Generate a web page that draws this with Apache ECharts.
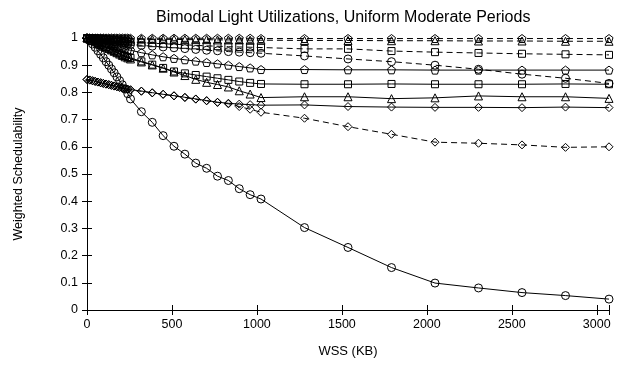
<!DOCTYPE html>
<html>
<head>
<meta charset="utf-8">
<script src="https://cdn.jsdelivr.net/npm/echarts@6/dist/echarts.min.js"></script>
<style>html,body{margin:0;padding:0;background:#fff}#c{width:627px;height:365px}</style>
</head>
<body>
<div id="c"></div>
<script>
const wss = [0,16,32,48,64,80,96,112,128,144,160,176,192,208,224,240,256,320,384,448,512,576,640,704,768,832,896,960,1024,1280,1536,1792,2048,2304,2560,2816,3072];
const xTicks = [0,500,1000,1500,2000,2500,3000];
const yTicks = [0,0.1,0.2,0.3,0.4,0.5,0.6,0.7,0.8,0.9,1];

const circleSolid = [1.0,0.99,0.978,0.966,0.953,0.94,0.927,0.913,0.9,0.886,0.872,0.857,0.843,0.828,0.812,0.795,0.776,0.729,0.69,0.641,0.602,0.573,0.54,0.521,0.492,0.476,0.446,0.424,0.408,0.303,0.23,0.156,0.099,0.081,0.064,0.053,0.04];
const circleDashed = [1.0,0.999,0.998,0.997,0.996,0.995,0.993,0.992,0.99,0.989,0.987,0.985,0.984,0.982,0.98,0.978,0.976,0.973,0.97,0.967,0.964,0.961,0.958,0.955,0.953,0.95,0.948,0.946,0.944,0.934,0.923,0.913,0.9,0.885,0.867,0.852,0.833];
const squareSolid = [1.0,0.996,0.991,0.987,0.982,0.977,0.972,0.967,0.962,0.957,0.952,0.947,0.943,0.938,0.934,0.93,0.927,0.914,0.902,0.89,0.877,0.87,0.864,0.858,0.852,0.846,0.84,0.835,0.831,0.83,0.83,0.831,0.83,0.83,0.83,0.831,0.83];
const squareDashed = [1.0,1.0,0.999,0.999,0.998,0.997,0.996,0.995,0.994,0.993,0.992,0.991,0.99,0.989,0.988,0.987,0.986,0.983,0.981,0.979,0.977,0.975,0.973,0.971,0.97,0.968,0.967,0.966,0.965,0.96,0.96,0.952,0.948,0.945,0.942,0.94,0.938];
const triangleSolid = [1.0,0.996,0.991,0.986,0.981,0.976,0.971,0.966,0.961,0.956,0.951,0.946,0.941,0.936,0.931,0.927,0.923,0.912,0.901,0.889,0.875,0.862,0.848,0.837,0.829,0.82,0.806,0.794,0.781,0.784,0.784,0.777,0.78,0.787,0.784,0.784,0.778];
const triangleDashed = [1.0,1.0,1.0,1.0,0.999,0.999,0.999,0.999,0.998,0.998,0.998,0.998,0.997,0.997,0.997,0.997,0.996,0.996,0.995,0.995,0.995,0.994,0.994,0.994,0.993,0.993,0.993,0.992,0.992,0.991,0.991,0.99,0.99,0.989,0.989,0.988,0.988];
const diamondSolid = [0.848,0.846,0.843,0.841,0.838,0.836,0.833,0.831,0.829,0.826,0.824,0.821,0.819,0.817,0.814,0.812,0.81,0.805,0.799,0.793,0.788,0.782,0.776,0.77,0.764,0.76,0.757,0.755,0.753,0.754,0.748,0.746,0.745,0.745,0.744,0.746,0.744];
const diamondDashed = [0.847,0.845,0.843,0.84,0.838,0.835,0.833,0.83,0.828,0.826,0.823,0.821,0.818,0.816,0.814,0.811,0.809,0.804,0.798,0.793,0.787,0.781,0.775,0.769,0.763,0.758,0.748,0.738,0.727,0.705,0.674,0.646,0.617,0.613,0.607,0.598,0.6];
const pentagonSolid = [1.0,0.998,0.996,0.993,0.99,0.987,0.984,0.981,0.978,0.975,0.972,0.969,0.966,0.963,0.96,0.957,0.955,0.946,0.938,0.931,0.925,0.92,0.915,0.91,0.905,0.9,0.895,0.89,0.884,0.884,0.883,0.883,0.882,0.882,0.882,0.882,0.882];
const pentagonDashed = [1.0,1.0,1.0,1.0,1.0,1.0,1.0,1.0,1.0,1.0,1.0,1.0,1.0,1.0,1.0,1.0,0.999,0.999,0.999,0.999,0.999,0.999,0.999,0.999,0.999,0.999,0.999,0.999,0.998,0.998,0.998,0.998,0.998,0.998,0.998,0.998,0.998];

const PENT = 'path://M0,-10 L9.51,-3.09 L5.88,8.09 L-5.88,8.09 L-9.51,-3.09 Z';
function mk(name, vals, symbol, size, dashed) {
  return {
    name: name, type: 'line', xAxisIndex: 0, yAxisIndex: 0,
    data: wss.map((x, i) => [x, vals[i]]),
    symbol: symbol, symbolSize: size, showAllSymbol: true, clip: false,
    lineStyle: { color: '#000', width: 1, type: dashed ? [6, 4] : 'solid' },
    itemStyle: { color: 'rgba(0,0,0,0)', borderColor: '#000', borderWidth: 1 },
    emphasis: { disabled: true }, silent: true
  };
}
const FONT = 'Liberation Sans, Arial, Helvetica, sans-serif';
const axisCommon = {
  axisLine: { show: true, lineStyle: { color: '#000', width: 1 } },
  axisTick: { show: true, inside: true, length: 5, lineStyle: { color: '#000' } },
  splitLine: { show: false }
};
const chart = echarts.init(document.getElementById('c'), null, { renderer: 'canvas' });
chart.setOption({
  animation: false,
  backgroundColor: '#fff',
  title: { text: 'Bimodal Light Utilizations, Uniform Moderate Periods', left: 151, top: 5,
    textStyle: { fontFamily: FONT, fontSize: 16, fontWeight: 'normal', color: '#000' } },
  grid: { left: 87, right: 18, top: 38, bottom: 55, containLabel: false },
  xAxis: [
    Object.assign({ type: 'value', min: 0, max: 3072, interval: 500, position: 'bottom',
      name: 'WSS (KB)', nameLocation: 'middle', nameGap: 35,
      nameTextStyle: { fontFamily: FONT, fontSize: 13, color: '#000' },
      axisLabel: { color: '#000', fontFamily: FONT, fontSize: 12.5, margin: 8,
        formatter: v => xTicks.includes(v) ? String(v) : '' } }, axisCommon),
    Object.assign({ type: 'value', min: 0, max: 3072, interval: 500, position: 'top',
      axisLabel: { show: false } }, axisCommon)
  ],
  yAxis: [
    Object.assign({ type: 'value', min: 0, max: 1, interval: 0.1, position: 'left',
      name: 'Weighted Schedulability', nameLocation: 'middle', nameGap: 62, nameRotate: 90,
      nameTextStyle: { fontFamily: FONT, fontSize: 12.5, color: '#000' },
      axisLabel: { color: '#000', fontFamily: FONT, fontSize: 12.5, margin: 9,
        formatter: v => { const t = yTicks.find(k => Math.abs(k - v) < 1e-9); return t === undefined ? '' : String(t); } } }, axisCommon),
    Object.assign({ type: 'value', min: 0, max: 1, interval: 0.1, position: 'right',
      axisLabel: { show: false } }, axisCommon)
  ],
  series: [
    mk('circle solid', circleSolid, 'circle', 8, false),
    mk('circle dashed', circleDashed, 'circle', 8, true),
    mk('square solid', squareSolid, 'rect', 7, false),
    mk('square dashed', squareDashed, 'rect', 7, true),
    mk('triangle solid', triangleSolid, 'triangle', 8, false),
    mk('triangle dashed', triangleDashed, 'triangle', 8, true),
    mk('diamond solid', diamondSolid, 'diamond', 8, false),
    mk('diamond dashed', diamondDashed, 'diamond', 8, true),
    mk('pentagon solid', pentagonSolid, PENT, 8, false),
    mk('pentagon dashed', pentagonDashed, PENT, 8, true)
  ]
});
</script>
</body>
</html>
